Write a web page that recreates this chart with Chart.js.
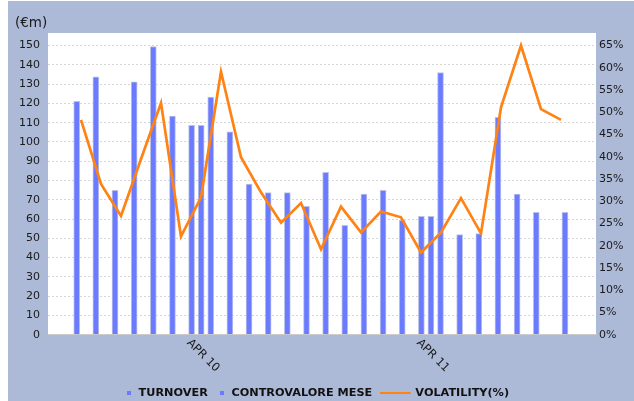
<!DOCTYPE html>
<html><head><meta charset="utf-8">
<script src="https://cdn.jsdelivr.net/npm/chart.js@4.4.1/dist/chart.umd.min.js"></script>
<style>html,body{margin:0;padding:0;background:#fff;}canvas{display:block;}</style>
</head><body>
<canvas id="c" width="634" height="401"></canvas>
<script>
// ---- data ----
const turnoverMonths = [0,1,2,3,4,5,6,7,8,9,10,11,12,13,14,15,16,17,18,19,20,21,22,23,24,25.5];
const turnover = [121.0,133.8,74.9,131.2,149.5,113.4,108.6,123.3,105.3,78.2,73.7,73.7,66.6,84.2,56.8,73.0,74.9,59.4,61.4,136.0,51.9,52.5,112.7,73.0,63.5,63.5];
const controvaloreMonths = [6.5,18.5];
const controvalore = [108.6,61.4];
const volatilityIndex = [0,1,2,3,4,5,6,7,8,9,10,11,12,13,14,15,16,17,18,19,20,21,22,23,24];
const volatility = [48.3,33.9,26.7,39.5,52.1,22.1,30.9,59.1,39.9,32.0,25.2,29.6,19.2,28.8,23.0,27.7,26.4,18.5,23.0,30.7,22.8,51.1,65.0,50.7,48.3];
const xTickMonths = [6,18];
const xTickLabels = ['APR 10','APR 11'];
const leftTicks = [0,10,20,30,40,50,60,70,80,90,100,110,120,130,140,150];
const rightTicks = [0,5,10,15,20,25,30,35,40,45,50,55,60,65];
const seriesNames = ['TURNOVER','CONTROVALORE MESE','VOLATILITY(%)'];

const BAR = '#6a7bff', BAR_EDGE = '#bcc2ea', ORANGE = '#ff8214', BG = '#acbad8';
const FONT = 'DejaVu Sans';

function icon(w, h, draw){ const c=document.createElement('canvas'); c.width=w; c.height=h; draw(c.getContext('2d')); return c; }
const sqIcon = icon(4,4,g=>{g.fillStyle=BAR;g.fillRect(0,0,4,4);});
const lineIcon = icon(52,2,g=>{g.fillStyle=ORANGE;g.fillRect(0,0,31,2);});
const legendIcons = [sqIcon, sqIcon, lineIcon];
const legendTexts = [seriesNames[0], seriesNames[1] + '     ', seriesNames[2]];

const bgPlugin = {
  id:'bg',
  beforeDraw(chart){
    const {ctx, chartArea:a} = chart;
    ctx.save();
    ctx.fillStyle='#fff'; ctx.fillRect(0,0,chart.width,chart.height);
    ctx.fillStyle=BG; ctx.fillRect(8,1,chart.width-8,chart.height-1);
    ctx.fillStyle='#fff'; ctx.fillRect(a.left,a.top,a.right-a.left,a.bottom-a.top);
    ctx.restore();
  },
  afterDraw(chart){
    const ctx = chart.ctx;
    ctx.save();
    ctx.fillStyle='#1a1a1a';
    ctx.font = '13.5px "' + FONT + '"';
    ctx.textAlign='left'; ctx.textBaseline='middle';
    ctx.fillText('(€m)', 15, 23);
    ctx.font = '11.5px "' + FONT + '"';
    ctx.textBaseline='top';
    const xs = chart.scales.x;
    xTickMonths.forEach((m,i)=>{
      const px = xs.getPixelForValue(m);
      ctx.save();
      ctx.translate(px+1, 337);
      ctx.rotate(Math.PI/4);
      ctx.fillText(xTickLabels[i], 0, 0);
      ctx.restore();
    });
    ctx.restore();
  }
};

new Chart(document.getElementById('c'), {
  type:'bar',
  data:{
    datasets:[
      { label:seriesNames[0], data:turnoverMonths.map((m,i)=>({x:m,y:turnover[i]})),
        backgroundColor:BAR, borderColor:BAR_EDGE, borderWidth:1, barThickness:6, grouped:false,
        xAxisID:'x', yAxisID:'y', order:2 },
      { label:seriesNames[1], data:controvaloreMonths.map((m,i)=>({x:m,y:controvalore[i]})),
        backgroundColor:BAR, borderColor:BAR_EDGE, borderWidth:1, barThickness:6, grouped:false,
        xAxisID:'x', yAxisID:'y', order:2 },
      { type:'line', label:seriesNames[2], data:volatilityIndex.map((k,i)=>({x:k,y:volatility[i]})),
        borderColor:ORANGE, backgroundColor:ORANGE, borderWidth:2.7, pointRadius:0, tension:0, fill:false,
        xAxisID:'x2', yAxisID:'y1', order:1 }
    ]
  },
  options:{
    responsive:false, animation:false, devicePixelRatio:1,
    layout:{padding:{left:8,right:8,top:33,bottom:-7.5}},
    scales:{
      x:{ type:'linear', position:'bottom', min:-1.5, max:27.12, offset:false,
          grid:{display:false, offset:false}, border:{display:true,color:'#cccccc'},
          ticks:{display:false}, afterFit:s=>{s.height=42.5;} },
      x2:{ type:'linear', display:false, min:-1.65, max:25.75, offset:false, grid:{offset:false} },
      y:{ position:'left', min:0, max:156.5,
          afterBuildTicks:s=>{s.ticks=leftTicks.map(v=>({value:v}));},
          afterFit:s=>{s.width=40;},
          ticks:{font:{family:FONT,size:11},color:'#1a1a1a',padding:8},
          grid:{color:'#d6d6d6',lineWidth:1,drawTicks:false},
          border:{display:false,dash:[2,2]} },
      y1:{ position:'right', min:0, max:156.5*65/150,
          afterBuildTicks:s=>{s.ticks=rightTicks.map(v=>({value:v}));},
          afterFit:s=>{s.width=30;},
          ticks:{font:{family:FONT,size:11},color:'#1a1a1a',padding:3,callback:v=>v+'%'},
          grid:{display:false,drawTicks:false}, border:{display:false} }
    },
    plugins:{
      tooltip:{enabled:false},
      legend:{ position:'bottom',
        labels:{ usePointStyle:true, boxWidth:8, padding:10, color:'#111',
          font:{family:FONT,size:11.25,weight:'bold'},
          generateLabels:(chart)=>chart.data.datasets.map((ds,i)=>({
            text:legendTexts[i], fillStyle:ds.backgroundColor, strokeStyle:ds.backgroundColor, lineWidth:0,
            pointStyle:legendIcons[i], hidden:!chart.isDatasetVisible(i), datasetIndex:i, fontColor:'#111'
          }))
        } }
    }
  },
  plugins:[bgPlugin]
});
</script>
</body></html>
